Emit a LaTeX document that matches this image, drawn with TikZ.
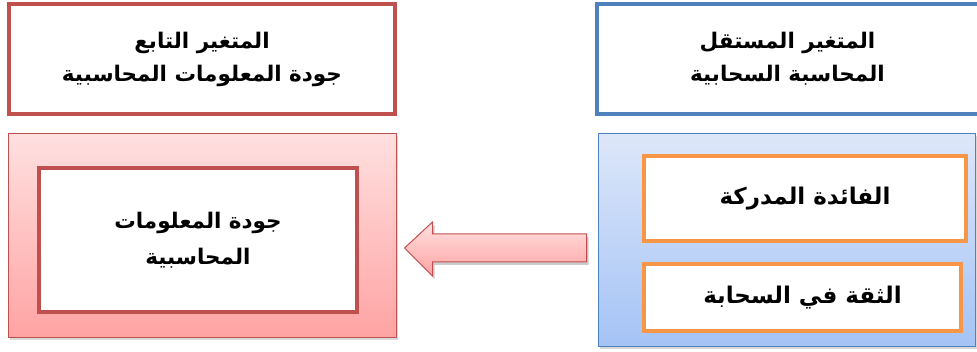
\documentclass[tikz,border=0pt]{standalone}
\usepackage{fontspec}
\newfontfamily\arabicfont[Script=Arabic]{DejaVu Sans}
\TeXXeTstate=1
\usetikzlibrary{calc,shadows}
\definecolor{redb}{HTML}{C0504D}
\definecolor{blueb}{HTML}{4F81BD}
\definecolor{orangeb}{HTML}{F79646}
\definecolor{pinktop}{HTML}{FFE0E0}
\definecolor{pinkbot}{HTML}{FFA3A3}
\definecolor{bluetop}{HTML}{DDE7F9}
\definecolor{bluebot}{HTML}{A4C3F6}
\tikzset{
  txt/.style={font=\arabicfont\bfseries\fontsize{21.5}{33}\selectfont, align=center, text=black},
  bigtxt/.style={font=\arabicfont\bfseries\fontsize{23}{36}\selectfont},
  thickbox/.style={draw, line width=3.5pt, fill=white, rectangle, inner sep=0pt, txt},
  redbox/.style={thickbox, draw=redb},
  bluebox/.style={thickbox, draw=blueb},
  orangebox/.style={thickbox, draw=orangeb, bigtxt},
  softshadow/.style={drop shadow={shadow xshift=1.5pt, shadow yshift=-2pt, opacity=0.25, fill=black!60}},
  pinkpanel/.style={draw=redb, line width=1pt, top color=pinktop, bottom color=pinkbot, rectangle, inner sep=0pt, softshadow},
  bluepanel/.style={draw=blueb, line width=1pt, top color=bluetop, bottom color=bluebot, rectangle, inner sep=0pt, softshadow},
}
\begin{document}
\begin{tikzpicture}[x=1pt,y=-1pt]
\useasboundingbox (0,0) rectangle (977,352);
% top boxes
\node[redbox, minimum width=386pt, minimum height=110pt] (tl) at (202,59)
  {\beginR المتغير التابع\endR\\ \beginR جودة المعلومات المحاسبية\endR};
\node[bluebox, minimum width=393pt, minimum height=110pt] (tr) at (793.5,59)
  {\hspace*{-12pt}\beginR المتغير المستقل\endR\\ \hspace*{-12pt}\beginR المحاسبة السحابية\endR};
% bottom panels
\node[pinkpanel, minimum width=388pt, minimum height=204pt] (bl) at (202,236) {};
\node[redbox, minimum width=318pt, minimum height=144pt, font=\arabicfont\bfseries\fontsize{21.5}{36}\selectfont] (dep) at (198,240)
  {\beginR جودة المعلومات\endR\\ \beginR المحاسبية\endR};
\node[bluepanel, minimum width=377pt, minimum height=213pt] (br) at (786.5,240.5) {};
\node[orangebox, minimum width=322pt, minimum height=85pt] (pu) at (805,198.5)
  {\beginR الفائدة المدركة\endR};
\node[orangebox, minimum width=317pt, minimum height=67pt] (tc) at (802.5,297.5)
  {\beginR الثقة في السحابة\endR};
% arrow from independent panel to dependent panel
\coordinate (tip) at ($(bl.east)+(8,12)$);
\coordinate (tail) at ($(br.west)+(-11,7.5)$);
\fill[black, opacity=0.2]
  ($(tip)+(2,3)$) -- ($(tip)+(30,-23)$) -- ($(tip)+(30,-11)$) -- ($(tail)+(2,-11)$) --
  ($(tail)+(2,17)$) -- ($(tip)+(30,17)$) -- ($(tip)+(30,31)$) -- cycle;
\draw[draw=redb, line width=1pt, top color=pinktop, bottom color=pinkbot]
  (tip) -- ($(tip)+(28,-26)$) -- ($(tip)+(28,-14)$) -- ($(tail)+(0,-14)$) --
  ($(tail)+(0,14)$) -- ($(tip)+(28,14)$) -- ($(tip)+(28,28)$) -- cycle;
\end{tikzpicture}
\end{document}
